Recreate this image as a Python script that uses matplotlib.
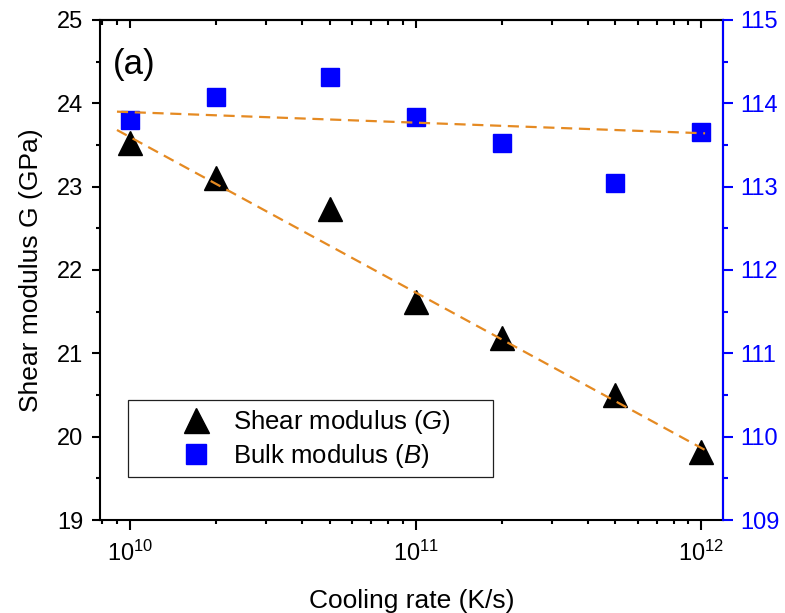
import numpy as np
import matplotlib.pyplot as plt
from matplotlib.patches import Rectangle
from matplotlib.ticker import MultipleLocator, LogLocator, NullFormatter

plt.rcParams['font.family'] = ['Liberation Sans', 'DejaVu Sans']
plt.rcParams['mathtext.fontset'] = 'custom'
plt.rcParams['mathtext.it'] = 'Liberation Sans:italic'
plt.rcParams['mathtext.rm'] = 'Liberation Sans'

cooling_rate = [1e10, 2e10, 5e10, 1e11, 2e11, 5e11, 1e12]
shear_G = [23.52, 23.10, 22.73, 21.62, 21.18, 20.50, 19.82]
bulk_B = [113.80, 114.08, 114.32, 113.83, 113.52, 113.04, 113.65]

# fitted lines (end points)
fit_x = [9e9, 1.03e12]
shear_fit = [23.68, 19.84]
bulk_fit = [113.90, 113.64]

orange = '#E58A22'
blue = '#0000FF'

fig = plt.figure(figsize=(7.85, 6.13), dpi=100)
ax = fig.add_axes([0.1274, 0.1517, 0.7936, 0.8157])
ax2 = ax.twinx()

ax.set_xscale('log')
ax.set_xlim(7.85e9, 1.19e12)
ax.set_ylim(19, 25)
ax2.set_ylim(109, 115)

ax.plot(cooling_rate, shear_G, linestyle='none', marker='^', color='black',
        markersize=17, label='Shear modulus ($G$)', zorder=3)
ax.plot(fit_x, shear_fit, color=orange, lw=1.6, dashes=(5, 3), zorder=4)

ax2.plot(cooling_rate, bulk_B, linestyle='none', marker='s', color=blue,
         markersize=13, label='Bulk modulus ($B$)', zorder=3)
ax2.plot(fit_x, bulk_fit, color=orange, lw=1.6, dashes=(5, 3), zorder=4)

ax.set_xlabel('Cooling rate (K/s)', fontsize=19, labelpad=16.5)
ax.set_ylabel('Shear modulus G (GPa)', fontsize=19, labelpad=10)

ax.yaxis.set_major_locator(MultipleLocator(1))
ax.yaxis.set_minor_locator(MultipleLocator(0.5))
ax2.yaxis.set_major_locator(MultipleLocator(1))
ax2.yaxis.set_minor_locator(MultipleLocator(0.5))
ax.xaxis.set_major_locator(LogLocator(base=10, numticks=10))
ax.xaxis.set_minor_locator(LogLocator(base=10, subs=np.arange(2, 10), numticks=20))
ax.xaxis.set_minor_formatter(NullFormatter())

for sp in ax.spines.values():
    sp.set_linewidth(1.5)
ax2.spines['right'].set_color(blue)
ax2.spines['right'].set_linewidth(1.5)
ax2.spines['left'].set_visible(False)
ax2.spines['top'].set_visible(False)
ax2.spines['bottom'].set_visible(False)

ax.tick_params(axis='both', which='major', direction='out', length=6, width=1.5,
               labelsize=17, pad=6)
ax.tick_params(axis='both', which='minor', direction='out', length=3, width=1.5)
ax.tick_params(axis='x', which='major', length=7, pad=8)
ax2.tick_params(axis='y', which='major', direction='out', length=7.5, width=1.5,
                colors=blue, labelsize=17, pad=5)
ax2.tick_params(axis='y', which='minor', direction='out', length=3.5, width=1.5,
                colors=blue)

top = ax.secondary_xaxis('top')
top.tick_params(axis='x', which='major', direction='in', length=6, width=1.5,
                labeltop=False)
top.tick_params(axis='x', which='minor', direction='in', length=3.5, width=1.5)
top.xaxis.set_major_locator(LogLocator(base=10, numticks=10))
top.xaxis.set_minor_locator(LogLocator(base=10, subs=np.arange(2, 10), numticks=20))
top.xaxis.set_major_formatter(NullFormatter())
top.xaxis.set_minor_formatter(NullFormatter())
top.spines['top'].set_linewidth(1.5)

ax.text(0.021, 0.91, '(a)', transform=ax.transAxes, fontsize=25, va='center')

# legend box drawn separately (Origin-style wide frame)
ax2.add_patch(Rectangle((0.045, 0.086), 0.586, 0.154, transform=ax2.transAxes,
                        fill=True, facecolor='white', edgecolor='#202020',
                        lw=0.9, zorder=5))
h1, l1 = ax.get_legend_handles_labels()
h2, l2 = ax2.get_legend_handles_labels()
leg = ax2.legend(h1 + h2, l1 + l2, loc='center left', bbox_to_anchor=(0.125, 0.162),
                 fontsize=18.5, frameon=False, borderpad=0, borderaxespad=0,
                 handletextpad=0.74, labelspacing=0.2, handlelength=1.4)
leg.set_zorder(6)
leg.legend_handles[0].set_markersize(18)
leg.legend_handles[1].set_markersize(14)

fig.savefig('out.png', dpi=100)
